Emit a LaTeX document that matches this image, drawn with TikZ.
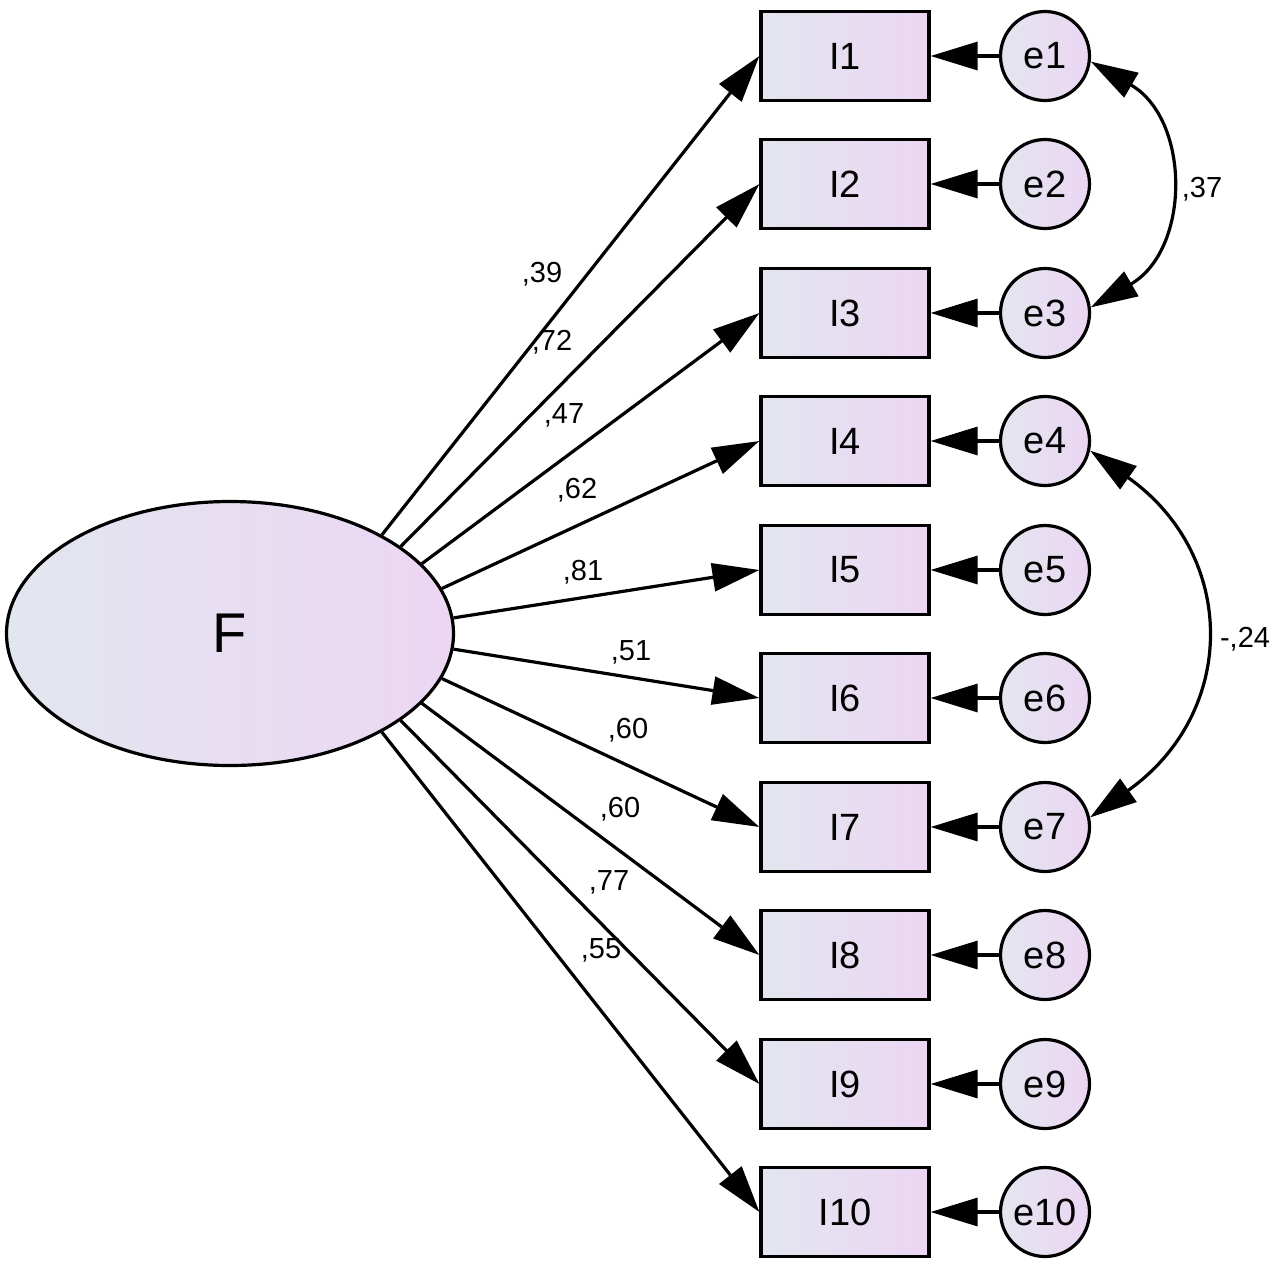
\documentclass[tikz,border=0pt]{standalone}
\usepackage{fontspec}
\setmainfont{Liberation Sans}
\usetikzlibrary{shapes.geometric,arrows.meta}
\definecolor{fillA}{RGB}{226,230,239}
\definecolor{fillB}{RGB}{236,214,243}
\begin{document}
\begin{tikzpicture}[x=1pt,y=-1pt,
 lw/.style={line width=3.2pt},
 obs/.style={draw, lw, rectangle, minimum width=168pt, minimum height=89pt, inner sep=0pt, left color=fillA, right color=fillB, font=\fontsize{38}{40}\selectfont},
 err/.style={draw, lw, circle, minimum size=89pt, inner sep=0pt, left color=fillA, right color=fillB, font=\fontsize{38}{40}\selectfont},
 lat/.style={draw, lw, ellipse, minimum width=447pt, minimum height=264pt, inner sep=0pt, left color=fillA, right color=fillB, font=\fontsize{56}{60}\selectfont},
 arr/.style={lw, -{Triangle[length=47pt,width=28pt]}},
 darr/.style={lw, {Triangle[length=47pt,width=28pt]}-{Triangle[length=47pt,width=28pt]}},
 lab/.style={font=\fontsize{29}{32}\selectfont, inner sep=0pt, anchor=base}
]
\useasboundingbox (0,0) rectangle (1279,1267);

\node[lat] (F) at (230,633.5) {F};

\foreach \i/\y in {1/56,2/184,3/313,4/441,5/570,6/698,7/827,8/955,9/1084,10/1212}{
  \node[obs] (I\i) at (845,\y) {I\i};
  \node[err] (e\i) at (1045,\y) {e\i};
  \draw[arr] (e\i) -- (I\i);
}

\draw[arr] (F.33) -- (I1.west);
\draw[arr] (F.27) -- (I2.west);
\draw[arr] (F.20) -- (I3.west);
\draw[arr] (F.12) -- (I4.west);
\draw[arr] (F.4) -- (I5.west);
\draw[arr] (F.-4) -- (I6.west);
\draw[arr] (F.-12) -- (I7.west);
\draw[arr] (F.-20) -- (I8.west);
\draw[arr] (F.-27) -- (I9.west);
\draw[arr] (F.-33) -- (I10.west);

\node[lab] (l1) at (542,282) {,39};
\node[lab] (l2) at (552,350) {,72};
\node[lab] (l3) at (564,423) {,47};
\node[lab] (l4) at (577,498) {,62};
\node[lab] (l5) at (583,580) {,81};
\node[lab] (l6) at (631,660) {,51};
\node[lab] (l7) at (628,738) {,60};
\node[lab] (l8) at (620,817) {,60};
\node[lab] (l9) at (609,890) {,77};
\node[lab] (l10) at (601,958) {,55};

\draw[darr] (e1.-7) .. controls +(100,58) and +(100,-58) .. (e3.7);
\draw[darr] (e4.-12) .. controls +(148,105) and +(148,-105) .. (e7.12);
\node[lab] (c13) at (1202,197) {,37};
\node[lab] (c47) at (1245,647) {-,24};
\end{tikzpicture}
\end{document}
